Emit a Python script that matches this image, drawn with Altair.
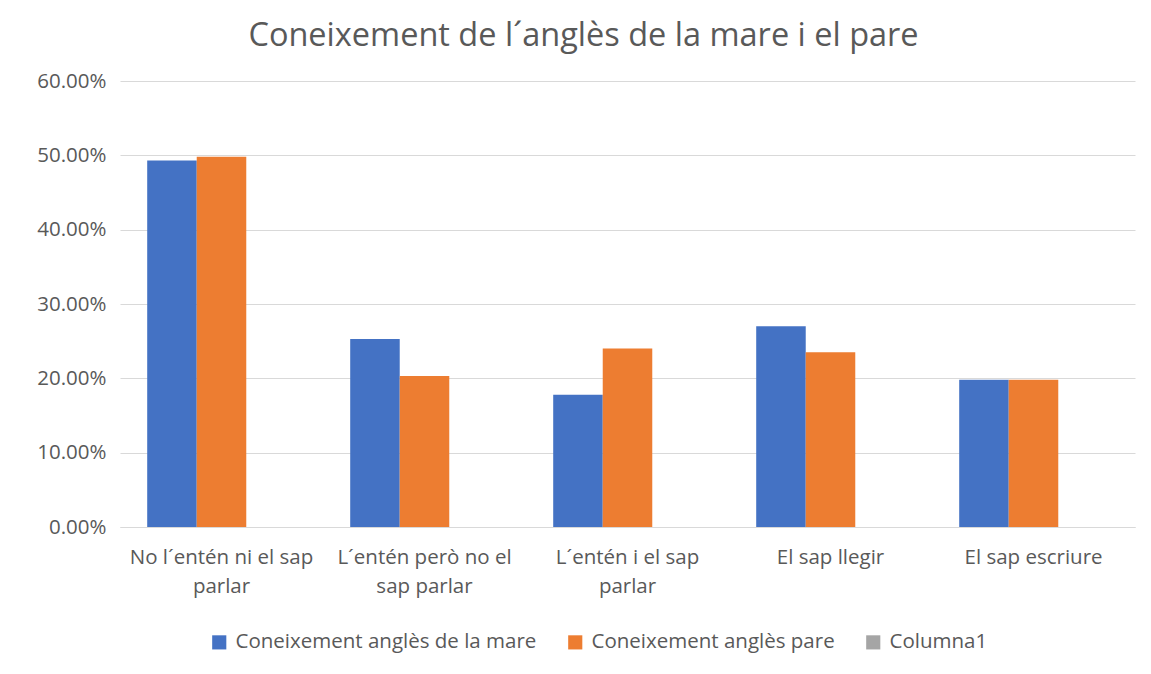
import altair as alt
import pandas as pd

categories = [
    "No l´entén ni el sap parlar",
    "L´entén però no el sap parlar",
    "L´entén i el sap parlar",
    "El sap llegir",
    "El sap escriure",
]
label_lines = [
    ["No l´entén ni el sap", "parlar"],
    ["L´entén però no el", "sap parlar"],
    ["L´entén i el sap", "parlar"],
    ["El sap llegir"],
    ["El sap escriure"],
]
series_names = ["Coneixement anglès de la mare", "Coneixement anglès pare", "Columna1"]
mare = [0.493, 0.253, 0.178, 0.270, 0.198]
pare = [0.498, 0.203, 0.240, 0.235, 0.198]
columna1 = [0.0, 0.0, 0.0, 0.0, 0.0]
colors = ["#4472C4", "#ED7D31", "#A5A5A5"]

rows = []
for s, vals in zip(series_names, [mare, pare, columna1]):
    for c, v in zip(categories, vals):
        rows.append({"categoria": c, "serie": s, "valor": v})
df = pd.DataFrame(rows)

expr_parts = []
for c, lines in zip(categories, label_lines):
    arr = "[" + ",".join("'" + l + "'" for l in lines) + "]"
    expr_parts.append(f"datum.label == '{c}' ? {arr} : ")
label_expr = "".join(expr_parts) + "datum.label"

FONT = "Open Sans"
GREY = "#595959"
FS = 20.5

chart = alt.Chart(df).mark_bar().encode(
    x=alt.X(
        "categoria:N",
        sort=categories,
        title=None,
        scale=alt.Scale(paddingInner=0.268, paddingOuter=0.134),
        axis=alt.Axis(
            labelExpr=label_expr,
            labelAngle=0,
            labelFontSize=FS,
            labelLineHeight=29,
            labelColor=GREY,
            labelFont=FONT,
            labelPadding=20,
            labelLimit=400,
            ticks=False,
            domainColor="#D9D9D9",
            domainWidth=1,
            grid=False,
        ),
    ),
    xOffset=alt.XOffset("serie:N", sort=series_names, scale=alt.Scale(paddingInner=0, paddingOuter=0)),
    y=alt.Y(
        "valor:Q",
        title=None,
        scale=alt.Scale(domain=[0, 0.6], nice=False),
        axis=alt.Axis(
            format=".2%",
            values=[0, 0.1, 0.2, 0.3, 0.4, 0.5, 0.6],
            labelFontSize=FS,
            labelColor=GREY,
            labelFont=FONT,
            labelPadding=14,
            ticks=False,
            domain=False,
            gridColor="#D9D9D9",
            gridWidth=1,
        ),
    ),
    color=alt.Color(
        "serie:N",
        sort=series_names,
        scale=alt.Scale(domain=series_names, range=colors),
        legend=alt.Legend(
            title=None,
            orient="none",
            direction="horizontal",
            legendX=89,
            legendY=551,
            symbolType="square",
            symbolSize=200,
            symbolStrokeWidth=0,
            symbolOpacity=1,
            labelFontSize=FS,
            labelColor=GREY,
            labelFont=FONT,
            labelOffset=6,
            labelLimit=500,
            columnPadding=28,
        ),
    ),
).properties(
    width=1015,
    height=446,
    background="white",
    title=alt.Title(
        "Coneixement de l´anglès de la mare i el pare",
        fontSize=32.5,
        font=FONT,
        fontWeight="normal",
        color=GREY,
        anchor="middle",
        dx=-44,
        offset=19,
    ),
    autosize=alt.AutoSizeParams(type="none"),
    padding={"left": 112, "top": 73, "right": 8, "bottom": 130},
).configure_view(strokeWidth=0)

chart.save("out.html", embed_options={"renderer": "svg", "actions": False})
